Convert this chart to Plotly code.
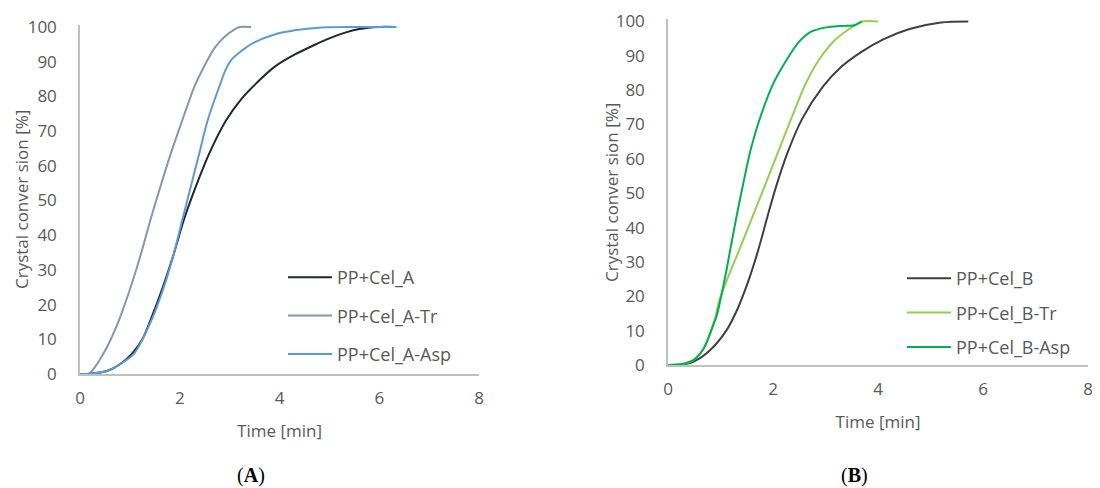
import plotly.graph_objects as go

# ---------------- data ----------------
# Panel A
a_base_t = [0, 0.2, 0.4, 0.57, 0.8, 1.04, 1.25, 1.41, 1.66, 1.88, 2.08, 2.32, 2.59, 2.93,
            3.25, 3.55, 3.9, 4.3, 4.7, 5.0, 5.3, 5.6, 6.0, 6.34]
a_base_y = [0, 0.1, 0.4, 1.0, 2.8, 5.8, 10.0, 15.4, 25.0, 34.6, 44.3, 53.9, 63.5, 73.1,
            79.5, 84.0, 88.5, 92.0, 94.8, 96.7, 98.3, 99.4, 100, 100]

a_tr_t = [0, 0.17, 0.3, 0.40, 0.55, 0.74, 0.98, 1.21, 1.41, 1.61, 1.82, 2.05, 2.29, 2.52,
          2.7, 2.9, 3.1, 3.2, 3.43]
a_tr_y = [0, 0, 2.0, 4.2, 8.0, 14.0, 23.5, 34.0, 44.3, 53.9, 63.5, 73.1, 82.7, 89.5,
          94.0, 97.2, 99.3, 100, 100]

a_asp_t = [0, 0.2, 0.4, 0.57, 0.8, 1.08, 1.43, 1.68, 1.88, 2.05, 2.22, 2.39, 2.56, 2.79,
           2.93, 3.05, 3.19, 3.46, 3.87, 4.34, 4.94, 5.5, 6.34]
a_asp_y = [0, 0.1, 0.4, 1.0, 2.8, 5.8, 15.4, 25.0, 34.6, 44.3, 53.9, 63.5, 73.1, 82.7,
           88.0, 90.8, 92.6, 95.3, 97.7, 99.1, 99.9, 100, 100]

# Panel B
b_base_t = [0, 0.3, 0.49, 0.8, 1.11, 1.3, 1.52, 1.71, 1.9, 2.05, 2.27, 2.55, 2.95, 3.3,
            3.7, 4.1, 4.6, 5.2, 5.72]
b_base_y = [0, 0.2, 1.0, 4.3, 10.0, 15.5, 24.0, 33.0, 43.5, 51.5, 61.5, 71.5, 81.0, 86.8,
            91.3, 94.8, 97.8, 99.7, 100]

b_tr_t = [0, 0.25, 0.49, 0.68, 0.86, 0.99, 1.33, 1.58, 1.86, 2.11, 2.36, 2.61, 2.86, 3.18,
          3.43, 3.6, 3.7, 4.0]
b_tr_y = [0, 0.2, 1.5, 4.8, 11.6, 19.4, 32.5, 42.0, 52.8, 62.5, 72.2, 81.5, 88.5, 94.6,
          97.6, 99.2, 100, 100]

b_asp_t = [0, 0.24, 0.49, 0.68, 0.86, 0.93, 1.07, 1.19, 1.31, 1.44, 1.58, 1.77, 2.02, 2.27,
           2.49, 2.71, 2.99, 3.3, 3.55, 3.69]
b_asp_y = [0, 0.2, 1.5, 4.8, 11.6, 14.5, 24.2, 33.9, 43.6, 53.3, 63.0, 72.7, 82.4, 89.1,
           94.0, 96.9, 98.2, 98.7, 98.9, 100]

names_a = ["PP+Cel_A", "PP+Cel_A-Tr", "PP+Cel_A-Asp"]
names_b = ["PP+Cel_B", "PP+Cel_B-Tr", "PP+Cel_B-Asp"]
colors_a = ["#1f2733", "#8496b0", "#5b9bd5"]
colors_b = ["#404040", "#92d050", "#00b050"]

x_ticks = [0, 2, 4, 6, 8]
y_ticks = [0, 10, 20, 30, 40, 50, 60, 70, 80, 90, 100]
x_title = "Time [min]"
y_title = "Crystal conver sion [%]"
panel_labels = ["(<b>A</b>)", "(<b>B</b>)"]

# ---------------- figure ----------------
FONT = "Open Sans"
GREY = "#595959"
OFF = 8                      # the page body adds an 8 px margin
W, H = 1100 - OFF, 488 - OFF

fig = go.Figure()

series_a = [(a_base_t, a_base_y), (a_tr_t, a_tr_y), (a_asp_t, a_asp_y)]
series_b = [(b_base_t, b_base_y), (b_tr_t, b_tr_y), (b_asp_t, b_asp_y)]

for i, ((t, y), nm, c) in enumerate(zip(series_a, names_a, colors_a)):
    fig.add_trace(go.Scatter(x=t, y=y, name=nm, mode="lines",
                             line=dict(color=c, width=2, shape="spline", smoothing=0.8),
                             xaxis="x", yaxis="y", legend="legend",
                             legendgroup="a%d" % i))
for i, ((t, y), nm, c) in enumerate(zip(series_b, names_b, colors_b)):
    fig.add_trace(go.Scatter(x=t, y=y, name=nm, mode="lines",
                             line=dict(color=c, width=2, shape="spline", smoothing=0.8),
                             xaxis="x2", yaxis="y2", legend="legend2",
                             legendgroup="b%d" % i))


def px_x(p):
    return (p - OFF) / W


def px_y(p):
    return 1 - (p - OFF) / H


def xax(domain, anchor):
    return dict(domain=domain, range=[0, 8], tickvals=x_ticks, showline=True,
                linecolor="#bfbfbf", linewidth=1.5, showgrid=False, zeroline=False,
                ticks="", ticklabelstandoff=8, anchor=anchor, automargin=False,
                tickfont=dict(family=FONT, size=17, color=GREY),
                title=dict(text=x_title, font=dict(family=FONT, size=17, color=GREY),
                           standoff=17))


def yax(domain, anchor):
    return dict(domain=domain, range=[0, 100.6], tickvals=y_ticks, showline=True,
                linecolor="#bfbfbf", linewidth=1.5, showgrid=False, zeroline=False,
                ticks="", ticklabelstandoff=18, anchor=anchor, automargin=False,
                tickfont=dict(family=FONT, size=17, color=GREY))


legend_common = dict(font=dict(family=FONT, size=18, color=GREY), bgcolor="rgba(0,0,0,0)",
                     traceorder="grouped", itemwidth=44, xanchor="left", yanchor="top")

ytitle_font = dict(family=FONT, size=17, color=GREY)
panel_font = dict(family="Liberation Serif", size=20, color="black")

fig.update_layout(
    width=W, height=H,
    margin=dict(l=0, r=0, t=0, b=0),
    paper_bgcolor="white", plot_bgcolor="white",
    showlegend=True,
    xaxis=xax([px_x(80), px_x(479)], "y"),
    yaxis=yax([px_y(374), px_y(24.9)], "x"),
    xaxis2=xax([px_x(668), px_x(1088)], "y2"),
    yaxis2=yax([px_y(365), px_y(19.4)], "x2"),
    legend=dict(x=px_x(283), y=px_y(259), tracegroupgap=12, **legend_common),
    legend2=dict(x=px_x(902), y=px_y(260), tracegroupgap=8, **legend_common),
    annotations=[
        dict(text=y_title, x=px_x(21), y=px_y(200), xref="paper", yref="paper",
             textangle=-90, xanchor="center", yanchor="middle", showarrow=False,
             font=ytitle_font),
        dict(text=y_title, x=px_x(611), y=px_y(193), xref="paper", yref="paper",
             textangle=-90, xanchor="center", yanchor="middle", showarrow=False,
             font=ytitle_font),
        dict(text=panel_labels[0], x=px_x(251), y=px_y(475), xref="paper", yref="paper",
             xanchor="center", yanchor="middle", showarrow=False, font=panel_font),
        dict(text=panel_labels[1], x=px_x(854), y=px_y(475), xref="paper", yref="paper",
             xanchor="center", yanchor="middle", showarrow=False, font=panel_font),
    ],
)

fig.write_html("out.html")
